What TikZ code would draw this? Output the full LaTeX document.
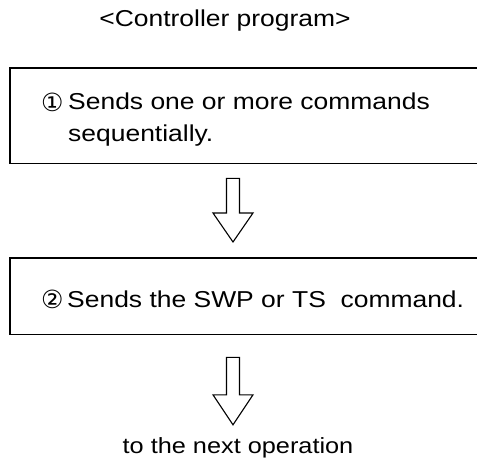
\documentclass[tikz,border=0pt]{standalone}
\usepackage{fontspec}
\setmainfont{Liberation Sans}
\newfontfamily\circfont{DejaVu Sans}
\usetikzlibrary{calc}
\newcommand\wtext[1]{\scalebox{1.15}[1]{#1}}
\begin{document}
\begin{tikzpicture}[x=1pt,y=-1pt,
  txt/.style={font=\fontsize{23}{28}\selectfont, inner sep=0pt, anchor=base west},
  circ/.style={font=\circfont\fontsize{25}{27}\selectfont, inner sep=0pt, anchor=base west},
  boxarea/.style={draw=none, inner sep=0pt, anchor=north west, minimum width=475pt},
  frame/.style={line width=1.4pt, line join=miter},
  arr/.style={line width=1.1pt, line join=miter}]
\useasboundingbox (0,0) rectangle (477,460);
% title
\node[txt, anchor=base] (title) at (225,27) {\wtext{<Controller program>}};
% boxes
\node[boxarea, minimum height=95pt] (b1) at (10,68) {};
\node[boxarea, minimum height=76pt] (b2) at (10,258) {};
\draw[frame] (b1.north east) -- (b1.north west) -- (b1.south west) -- (b1.south east);
\draw[frame] (b2.north east) -- (b2.north west) -- (b2.south west) -- (b2.south east);
% texts
\node[circ] (c1) at (41,111) {①};
\node[txt] (t1) at (68,110) {\wtext{Sends one or more commands}};
\node[txt] (t2) at (68,142) {\wtext{sequentially.}};
\node[circ] (c2) at (41,308) {②};
\node[txt] (t3) at (67,307) {\wtext{Sends the SWP or TS\ \ command.}};
\node[txt, font=\fontsize{22}{26}\selectfont, anchor=base] (nxt) at (238,453) {\wtext{to the next operation}};
% column of arrows
\coordinate (col) at (233,0);
\draw[arr] let \p1=($(b1.south -| col)+(0,15)$), \p2=($(b2.north -| col)+(0,-16)$) in
  (\x1-6.5pt,\y1) -- (\x1+6.5pt,\y1) -- (\x1+6.5pt,\y2+29pt) -- (\x1+20pt,\y2+29pt)
  -- (\x1,\y2) -- (\x1-20pt,\y2+29pt) -- (\x1-6.5pt,\y2+29pt) -- cycle;
\draw[arr] let \p1=($(b2.south -| col)+(0,23)$), \p2=($(nxt.north -| col)+(0,-12)$) in
  (\x1-6.5pt,\y1) -- (\x1+6.5pt,\y1) -- (\x1+6.5pt,\y2+30pt) -- (\x1+20pt,\y2+30pt)
  -- (\x1,\y2) -- (\x1-20pt,\y2+30pt) -- (\x1-6.5pt,\y2+30pt) -- cycle;
\end{tikzpicture}
\end{document}
